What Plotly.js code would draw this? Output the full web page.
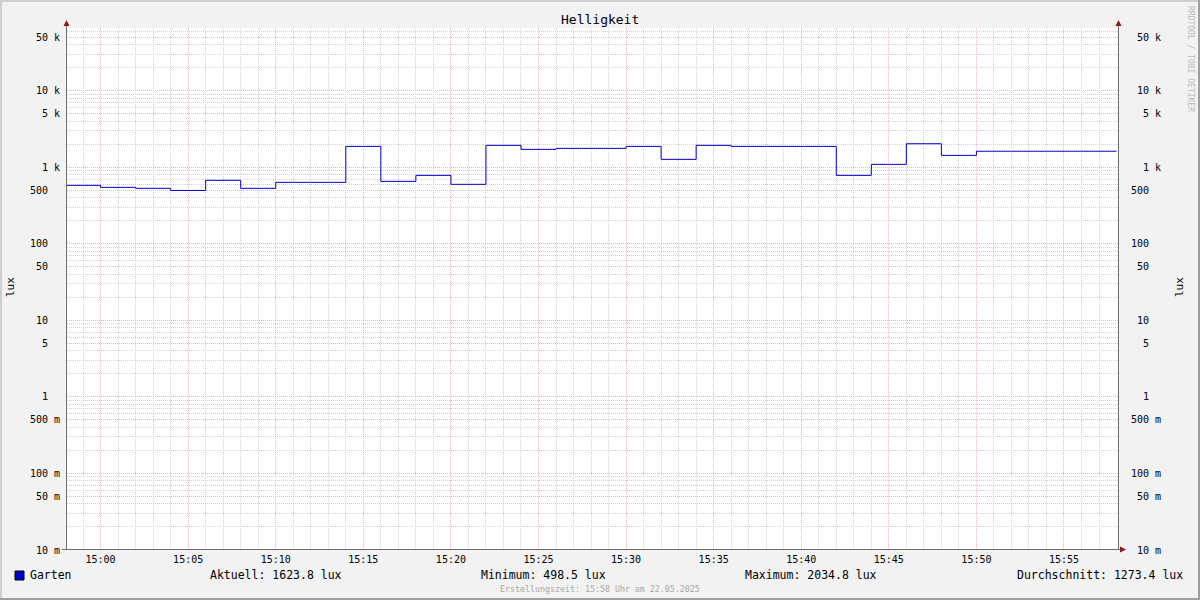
<!DOCTYPE html>
<html>
<head>
<meta charset="utf-8">
<script src="https://cdn.plot.ly/plotly-3.0.1.min.js"></script>
<style>html,body{margin:0;padding:0;background:#F2F2F2;overflow:hidden;}</style>
</head>
<body>
<div id="chart" style="width:1200px;height:600px;"></div>
<script>
// ---- data ----
const times = ["14:58","15:00","15:02","15:04","15:06","15:08","15:10","15:12","15:14","15:16",
  "15:18","15:20","15:22","15:24","15:26","15:28","15:30","15:32","15:34","15:36",
  "15:38","15:40","15:42","15:44","15:46","15:48","15:50","15:52","15:54","15:56","15:58"];
const garten = [582,548,532,499,677,532,637,637,1880,656,
  786,600,1940,1718,1770,1770,1880,1272,1940,1880,
  1880,1880,786,1094,2035,1434,1624,1624,1624,1624,1624];
const yTickVals = [0.01,0.05,0.1,0.5,1,5,10,50,100,500,1000,5000,10000,50000];
const yTickText = [" 10 m"," 50 m","100 m","500 m","  1  ","  5  "," 10  "," 50  ","100  ","500  ","  1 k","  5 k"," 10 k"," 50 k"];
const xTickLabels = ["15:00","15:05","15:10","15:15","15:20","15:25","15:30","15:35","15:40","15:45","15:50","15:55"];
const seriesName = "Garten";
const legendStats = ["Aktuell: 1623.8 lux","Minimum: 498.5 lux","Maximum: 2034.8 lux","Durchschnitt: 1273.4 lux"];
const titleText = "Helligkeit";
const unitText = "lux";
const footerText = "Erstellungszeit: 15:58 Uhr am 22.05.2025";
const sideText = "RRDTOOL / TOBI OETIKER";

// ---- helpers ----
const day = "2025-05-22 ";
const xs = times.map(t => day + t);
const nb = s => s.replace(/ /g, "\u00a0");
const L = 67, R = 1118, T = 28, B = 550;
const px = x => (x - L) / (R - L);
const py = y => (B - y) / (B - T);

// minor grid positions (log decades 2..9, and every minute except the 5-minute marks)
const minorVals = [];
for (let e = -2; e <= 4; e++) {
  for (const m of [2,3,4,6,7,8,9]) {
    const v = m * Math.pow(10, e);
    if (v < 66000) minorVals.push(v);
  }
}
const xMinor = [];
for (let m = 59; m < 118; m++) {
  if (m % 5 === 0) continue;
  const hh = 14 + Math.floor(m / 60), mm = m % 60;
  xMinor.push(day + hh + ":" + String(mm).padStart(2, "0"));
}
const yRange = [-2, 4.821];
const MAJ = "#F0B4B4";
const MIN = "#D2D2D2";
const DASH = "1px,1px";
const FONT = "DejaVu Sans Mono";

const yCommon = {
  type: "log", range: yRange, autorange: false,
  tickmode: "array", tickvals: yTickVals, ticktext: yTickText.map(nb),
  tickfont: {family: FONT, size: 10, color: "#000"},
  showgrid: true, gridcolor: MAJ, griddash: DASH, gridwidth: 1,
  minor: {tickmode: "array", tickvals: minorVals, showgrid: true, gridcolor: MIN, griddash: DASH, gridwidth: 1},
  showline: true, linecolor: "#6E6E6E", linewidth: 1,
  zeroline: false, ticks: "", fixedrange: true
};
const tickVals = xTickLabels.map(t => day + t);

const traces = [
  {x: xs, y: garten, type: "scatter", mode: "lines", line: {shape: "hv", color: "#0000CC", width: 1},
   name: seriesName, hoverinfo: "skip", showlegend: false},
  {x: xs, y: garten, type: "scatter", mode: "lines", yaxis: "y2", line: {shape: "hv", color: "rgba(0,0,0,0)", width: 0},
   hoverinfo: "skip", showlegend: false}
];

const tri = (pts) => "M " + pts.map(p => px(p[0]) + "," + py(p[1])).join(" L ") + " Z";
const ARROW = "#8B1A1A";
const shapes = [
  {type:"line", xref:"paper", yref:"paper", x0:px(66.5), x1:px(66.5), y0:py(28), y1:py(22), line:{color:"#6E6E6E", width:1}},
  {type:"line", xref:"paper", yref:"paper", x0:px(1118.5), x1:px(1118.5), y0:py(28), y1:py(22), line:{color:"#6E6E6E", width:1}},
  {type:"line", xref:"paper", yref:"paper", x0:px(62), x1:px(1122), y0:py(549.5), y1:py(549.5), line:{color:"#6E6E6E", width:1}},
  {type:"path", xref:"paper", yref:"paper", path: tri([[63.5,26],[69.5,26],[66.5,20]]), fillcolor:ARROW, line:{width:0}},
  {type:"path", xref:"paper", yref:"paper", path: tri([[1115.5,26],[1121.5,26],[1118.5,20]]), fillcolor:ARROW, line:{width:0}},
  {type:"path", xref:"paper", yref:"paper", path: tri([[1120,546.5],[1120,552.5],[1126,549.5]]), fillcolor:ARROW, line:{width:0}},
  {type:"rect", xref:"paper", yref:"paper", x0:px(15), x1:px(24), y0:py(571), y1:py(580), fillcolor:"#0000CC", line:{color:"#000", width:1}},
  {type:"rect", xref:"paper", yref:"paper", x0:px(0), x1:px(2), y0:py(0), y1:py(600), fillcolor:"#CFCFCF", line:{width:0}},
  {type:"rect", xref:"paper", yref:"paper", x0:px(0), x1:px(1200), y0:py(0), y1:py(2), fillcolor:"#CFCFCF", line:{width:0}},
  {type:"rect", xref:"paper", yref:"paper", x0:px(1198), x1:px(1200), y0:py(0), y1:py(600), fillcolor:"#9E9E9E", line:{width:0}},
  {type:"rect", xref:"paper", yref:"paper", x0:px(0), x1:px(1200), y0:py(598), y1:py(600), fillcolor:"#9E9E9E", line:{width:0}}
];

const ann = (text, x, y, opts) => Object.assign({
  text: text, xref: "paper", yref: "paper", x: px(x), y: py(y), showarrow: false,
  xanchor: "left", yanchor: "middle", font: {family: FONT, size: 11.5, color: "#000"}
}, opts || {});

const annotations = [
  ann(seriesName, 28, 575),
  ann(nb(legendStats[0]), 208, 575),
  ann(nb(legendStats[1]), 479, 575),
  ann(nb(legendStats[2]), 743, 575),
  ann(nb(legendStats[3]), 1185, 575, {xanchor: "right"}),
  ann(nb(footerText), 600, 589, {xanchor: "center", font: {family: FONT, size: 8.3, color: "#A8A8A8"}}),
  ann(nb(titleText), 600, 19, {xanchor: "center", font: {family: FONT, size: 13, color: "#000"}}),
  ann(unitText, 10, 287, {xanchor: "center", textangle: -90, font: {family: FONT, size: 11, color: "#000"}}),
  ann(unitText, 1179, 287, {xanchor: "center", textangle: -90, font: {family: FONT, size: 11, color: "#000"}}),
  ann(nb(sideText), 1190, 59, {xanchor: "center", textangle: 90, font: {family: FONT, size: 8, color: "#BBBBBB"}})
];

const layout = {
  width: 1200, height: 600, autosize: false,
  margin: {l: L, r: 1200 - R, t: T, b: 600 - B, pad: 0},
  paper_bgcolor: "#F2F2F2", plot_bgcolor: "#FFFFFF",
  showlegend: false,
  xaxis: {
    type: "date", range: [day + "14:58:05", day + "15:58:05"], autorange: false,
    tickmode: "array", tickvals: tickVals, ticktext: xTickLabels,
    tickfont: {family: FONT, size: 10, color: "#000"},
    showgrid: true, gridcolor: MAJ, griddash: DASH, gridwidth: 1,
    minor: {tickmode: "array", tickvals: xMinor, showgrid: true, gridcolor: MIN, griddash: DASH, gridwidth: 1},
    showline: false, zeroline: false, ticks: "", fixedrange: true, ticklabelstandoff: 2
  },
  yaxis: Object.assign({}, yCommon, {side: "left", ticklabelstandoff: 4}),
  yaxis2: Object.assign({}, yCommon, {side: "right", overlaying: "y", showgrid: false,
    minor: {showgrid: false}, ticklabelstandoff: 10}),
  shapes: shapes,
  annotations: annotations
};

Plotly.newPlot("chart", traces, layout, {displayModeBar: false, staticPlot: true});
</script>
</body>
</html>
